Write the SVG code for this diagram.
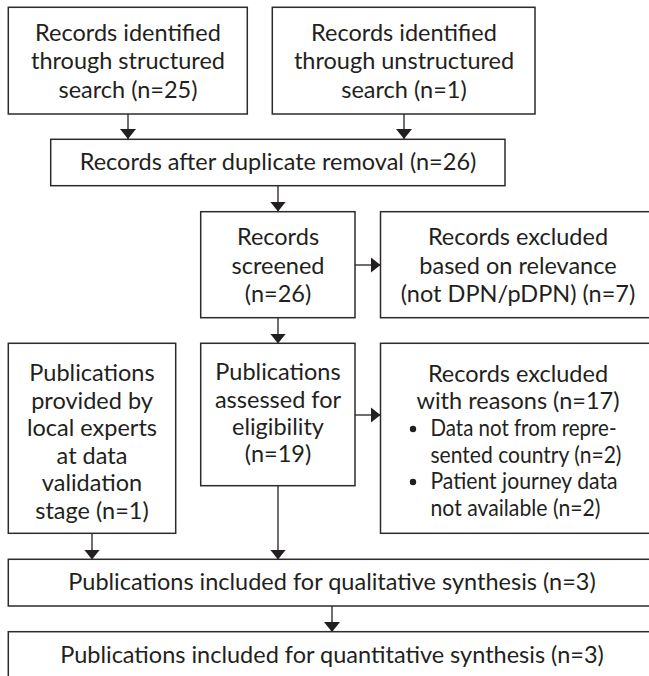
<svg xmlns="http://www.w3.org/2000/svg" width="649" height="676" viewBox="0 0 649 676">
<style>
.box{fill:#fff;stroke:#2b2b2b;stroke-width:1.5}
.t{font-family:Lato,"Open Sans","Liberation Sans",sans-serif;font-size:23.5px;fill:#231f20;text-anchor:middle}
.l{text-anchor:start;font-size:23px}
.c{fill:none;stroke:#4a4a4a;stroke-width:1.6}
</style>
<defs>
<marker id="ah" viewBox="0 0 10 16" refX="10" refY="8" markerWidth="10" markerHeight="16" markerUnits="userSpaceOnUse" orient="auto">
<path d="M0,0 L10,8 L0,16 z" fill="#231f20"/>
</marker>
</defs>
<rect width="649" height="676" fill="#fff"/>
<g id="connectors">
<line class="c" x1="128" y1="114" x2="128" y2="139" marker-end="url(#ah)"/>
<line class="c" x1="404" y1="114" x2="404" y2="139" marker-end="url(#ah)"/>
<line class="c" x1="278" y1="186" x2="278" y2="211.5" marker-end="url(#ah)"/>
<line class="c" x1="355" y1="265" x2="380.5" y2="265" marker-end="url(#ah)"/>
<line class="c" x1="278" y1="318" x2="278" y2="343.5" marker-end="url(#ah)"/>
<line class="c" x1="355" y1="415" x2="380.5" y2="415" marker-end="url(#ah)"/>
<line class="c" x1="92" y1="533" x2="92" y2="559.5" marker-end="url(#ah)"/>
<line class="c" x1="278" y1="486" x2="278" y2="559.5" marker-end="url(#ah)"/>
<line class="c" x1="332" y1="606" x2="332" y2="632" marker-end="url(#ah)"/>
</g>
<g id="structured">
<rect class="box" x="8.3" y="7.3" width="239" height="106.7"/>
<text class="t" x="128" y="40.7">Records identified</text>
<text class="t" x="128" y="69.3">through structured</text>
<text class="t" x="128" y="97.7">search (n=25)</text>
</g>
<g id="unstructured">
<rect class="box" x="272.3" y="7.3" width="262.7" height="106.7"/>
<text class="t" x="404" y="40.7">Records identified</text>
<text class="t" x="404" y="69.3">through unstructured</text>
<text class="t" x="404" y="97.7">search (n=1)</text>
</g>
<g id="duplicates">
<rect class="box" x="50.7" y="139.3" width="454.3" height="46.4"/>
<text class="t" x="278" y="170">Records after duplicate removal (n=26)</text>
</g>
<g id="screened">
<rect class="box" x="200.7" y="211.7" width="154.3" height="106"/>
<text class="t" x="278" y="245">Records</text>
<text class="t" x="278" y="273.5">screened</text>
<text class="t" x="278" y="302">(n=26)</text>
</g>
<g id="excluded-relevance">
<rect class="box" x="380.5" y="211.7" width="276" height="106"/>
<text class="t" x="518" y="245">Records excluded</text>
<text class="t" x="518" y="273.5">based on relevance</text>
<text class="t" x="518" y="302">(not DPN/pDPN) (n=7)</text>
</g>
<g id="local-experts">
<rect class="box" x="8.3" y="343.3" width="167.4" height="190"/>
<text class="t" x="92" y="381">Publications</text>
<text class="t" x="92" y="408.6">provided by</text>
<text class="t" x="92" y="436.2">local experts</text>
<text class="t" x="92" y="463.8">at data</text>
<text class="t" x="92" y="491.4">validation</text>
<text class="t" x="92" y="519">stage (n=1)</text>
</g>
<g id="eligibility">
<rect class="box" x="200.7" y="343.3" width="154.3" height="142.4"/>
<text class="t" x="278" y="380">Publications</text>
<text class="t" x="278" y="408">assessed for</text>
<text class="t" x="278" y="435">eligibility</text>
<text class="t" x="278" y="462">(n=19)</text>
</g>
<g id="excluded-reasons">
<rect class="box" x="380.5" y="343.3" width="276" height="190"/>
<text class="t" x="518" y="382">Records excluded</text>
<text class="t" x="518" y="409">with reasons (n=17)</text>
<circle cx="413" cy="429" r="3.2" fill="#231f20"/>
<text class="t l" x="430.5" y="436" textLength="186" lengthAdjust="spacingAndGlyphs">Data not from repre-</text>
<text class="t l" x="430.5" y="462.5" textLength="191" lengthAdjust="spacingAndGlyphs">sented country (n=2)</text>
<circle cx="413" cy="482" r="3.2" fill="#231f20"/>
<text class="t l" x="430.5" y="489" textLength="187" lengthAdjust="spacingAndGlyphs">Patient journey data</text>
<text class="t l" x="430.5" y="515.7" textLength="170" lengthAdjust="spacingAndGlyphs">not available (n=2)</text>
</g>
<g id="qualitative">
<rect class="box" x="8.3" y="559.3" width="648" height="46.7"/>
<text class="t" x="332" y="590">Publications included for qualitative synthesis (n=3)</text>
</g>
<g id="quantitative">
<rect class="box" x="8.3" y="631.7" width="648" height="46"/>
<text class="t" x="332" y="662.7">Publications included for quantitative synthesis (n=3)</text>
</g>
</svg>
